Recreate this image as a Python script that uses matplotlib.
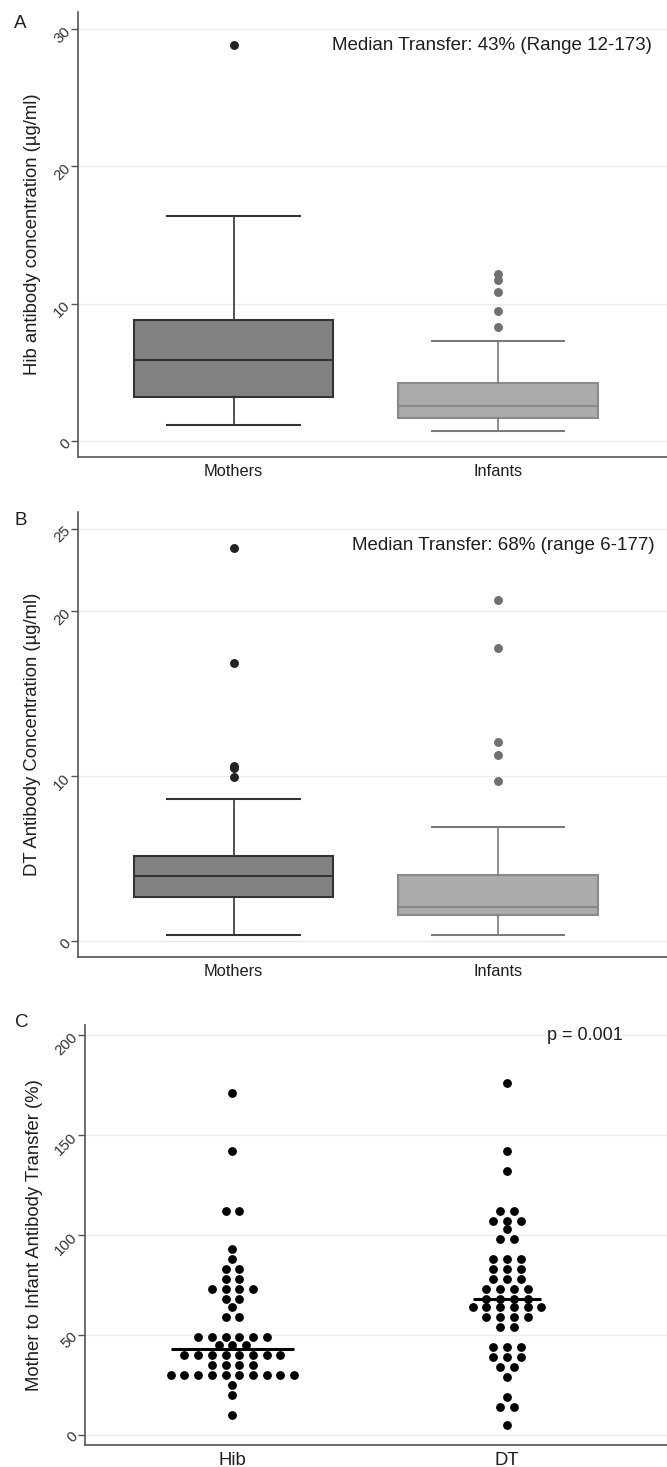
import numpy as np
import matplotlib
matplotlib.use("Agg")
import matplotlib.pyplot as plt

plt.rcParams['font.family'] = ['Liberation Sans', 'DejaVu Sans']

# ---------------- data ----------------
groups_ab = ["Mothers", "Infants"]

# Panel A: Hib antibody concentration (ug/ml) box statistics
hib_med = [5.88, 2.57]
hib_q1 = [3.22, 1.65]
hib_q3 = [8.84, 4.21]
hib_whislo = [1.16, 0.75]
hib_whishi = [16.39, 7.26]
hib_fliers_mothers = [28.84]
hib_fliers_infants = [8.33, 9.46, 10.84, 11.74, 12.18]

# Panel B: DT antibody concentration (ug/ml) box statistics
dt_med = [3.94, 2.04]
dt_q1 = [2.65, 1.58]
dt_q3 = [5.16, 4.00]
dt_whislo = [0.36, 0.36]
dt_whishi = [8.62, 6.94]
dt_fliers_mothers = [9.97, 10.48, 10.62, 16.89, 23.83]
dt_fliers_infants = [9.71, 11.27, 12.06, 17.76, 20.69]

# Panel C: mother-to-infant transfer (%) -- individual values (binned as in dot plot)
groups_c = ["Hib", "DT"]
hib_transfer = ([171, 142, 112, 112, 93, 88] + [83] * 2 + [78] * 2 + [73] * 4 + [68] * 2 +
                [64] + [59] * 2 + [49] * 6 + [45] * 3 + [40] * 8 + [35] * 4 + [30] * 10 +
                [25, 20, 10])
dt_transfer = ([176, 142, 132] + [112] * 2 + [107] * 3 + [103] + [98] * 2 + [88] * 3 +
               [83] * 3 + [78] * 3 + [73] * 4 + [68] * 4 + [64] * 6 + [59] * 4 + [54] * 2 +
               [44] * 3 + [39] * 3 + [34] * 2 + [29, 19] + [14] * 2 + [5])
median_transfer = [43, 68]

W, H = 667, 1467


def fx(x):
    return x / W


def fy(y):
    return 1 - y / H


fig = plt.figure(figsize=(W / 100, H / 100), dpi=100)

grid_col = "#ebebeb"
txt = "#1e1e1e"


def style_axes(ax):
    for s in ["top", "right"]:
        ax.spines[s].set_visible(False)
    for s in ["left", "bottom"]:
        ax.spines[s].set_color("#555555")
        ax.spines[s].set_linewidth(1.2)
    ax.yaxis.grid(True, color=grid_col, linewidth=1.0)
    ax.set_axisbelow(True)
    ax.tick_params(axis="x", length=0, pad=4.5, labelsize=11.8, colors=txt)
    ax.tick_params(axis="y", length=5, width=1, color="#555555", pad=2,
                   labelsize=10.8, labelcolor="#333333")
    for lab in ax.get_yticklabels():
        lab.set_rotation(45)
        lab.set_ha("right")
        lab.set_va("center")
        lab.set_rotation_mode("anchor")


def box_panel(ax, med, q1, q3, lo, hi, fl_m, fl_i, ylim, yticks):
    fliers = [fl_m, fl_i]
    colors = [("#828282", "#333333", "#333333", "#222222"),
              ("#ababab", "#8a8a8a", "#7a7a7a", "#707070")]
    for i in range(2):
        st = [dict(med=med[i], q1=q1[i], q3=q3[i], whislo=lo[i], whishi=hi[i],
                   fliers=fliers[i], label=groups_ab[i])]
        fc, ec, wc, oc = colors[i]
        ax.bxp(st, positions=[i + 1], widths=0.755, patch_artist=True,
               showfliers=True,
               boxprops=dict(facecolor=fc, edgecolor=ec, linewidth=1.5),
               medianprops=dict(color=ec, linewidth=1.5),
               whiskerprops=dict(color=wc, linewidth=1.2),
               capprops=dict(color=wc, linewidth=1.5),
               capwidths=0.5,
               flierprops=dict(marker="o", markerfacecolor=oc, markeredgecolor=oc,
                               markersize=5.4))
    ax.set_xlim(0.411, 2.64)
    ax.set_ylim(*ylim)
    ax.set_yticks(yticks)
    ax.set_xticks([1, 2])
    ax.set_xticklabels(groups_ab)
    style_axes(ax)


# Panel A
axA = fig.add_axes([fx(77.9), fy(457.3), 1 - fx(77.9), (457.3 - 11.7) / H])
box_panel(axA, hib_med, hib_q1, hib_q3, hib_whislo, hib_whishi,
          hib_fliers_mothers, hib_fliers_infants, (-1.18, 31.26), [0, 10, 20, 30])
fig.text(fx(652), fy(45), "Median Transfer: %d%% (Range 12-173)" % median_transfer[0],
         ha="right", va="center", fontsize=13.5, color=txt)
fig.text(fx(33), fy(234.5), "Hib antibody concentration (\u00b5g/ml)", rotation=90,
         ha="center", va="center", fontsize=13.3, color=txt)
fig.text(fx(14), fy(28), "A", ha="left", va="baseline", fontsize=13.5, color=txt)

# Panel B
axB = fig.add_axes([fx(77.9), fy(957.3), 1 - fx(77.9), (957.3 - 512.3) / H])
box_panel(axB, dt_med, dt_q1, dt_q3, dt_whislo, dt_whishi,
          dt_fliers_mothers, dt_fliers_infants, (-0.99, 26.0), [0, 10, 20, 25])
fig.text(fx(655), fy(545.7), "Median Transfer: %d%% (range 6-177)" % median_transfer[1],
         ha="right", va="center", fontsize=13.5, color=txt)
fig.text(fx(33), fy(734.8), "DT Antibody Concentration (\u00b5g/ml)", rotation=90,
         ha="center", va="center", fontsize=13.3, color=txt)
fig.text(fx(14), fy(525), "B", ha="left", va="baseline", fontsize=13.5, color=txt)

# Panel C
axC = fig.add_axes([fx(85), fy(1445), 1 - fx(85), (1445 - 1025) / H])
spacing = 0.05
for gi, vals in enumerate([hib_transfer, dt_transfer]):
    vals = np.array(vals)
    uniq, counts = np.unique(vals, return_counts=True)
    xs, ys = [], []
    for u, c in zip(uniq, counts):
        offs = (np.arange(c) - (c - 1) / 2) * spacing
        xs.extend(gi + 1 + offs)
        ys.extend([u] * c)
    axC.scatter(xs, ys, s=40, color="black", linewidths=0, zorder=3)
    half = (counts.max() - 1) / 2 * spacing
    axC.plot([gi + 1 - half, gi + 1 + half], [median_transfer[gi]] * 2,
             color="black", linewidth=2.2, zorder=4, solid_capstyle="butt")
axC.set_xlim(0.463, 2.583)
axC.set_ylim(-5.2, 205)
axC.set_yticks([0, 50, 100, 150, 200])
axC.set_xticks([1, 2])
axC.set_xticklabels(groups_c)
style_axes(axC)
axC.tick_params(axis="x", labelsize=13.3, pad=5)
fig.text(fx(623), fy(1035), "p = 0.001", ha="right", va="center", fontsize=13,
         color=txt)
fig.text(fx(35), fy(1235), "Mother to Infant Antibody Transfer (%)", rotation=90,
         ha="center", va="center", fontsize=13.3, color=txt)
fig.text(fx(15), fy(1027), "C", ha="left", va="baseline", fontsize=13.5, color=txt)

fig.savefig("out.png", dpi=100, facecolor="white")
